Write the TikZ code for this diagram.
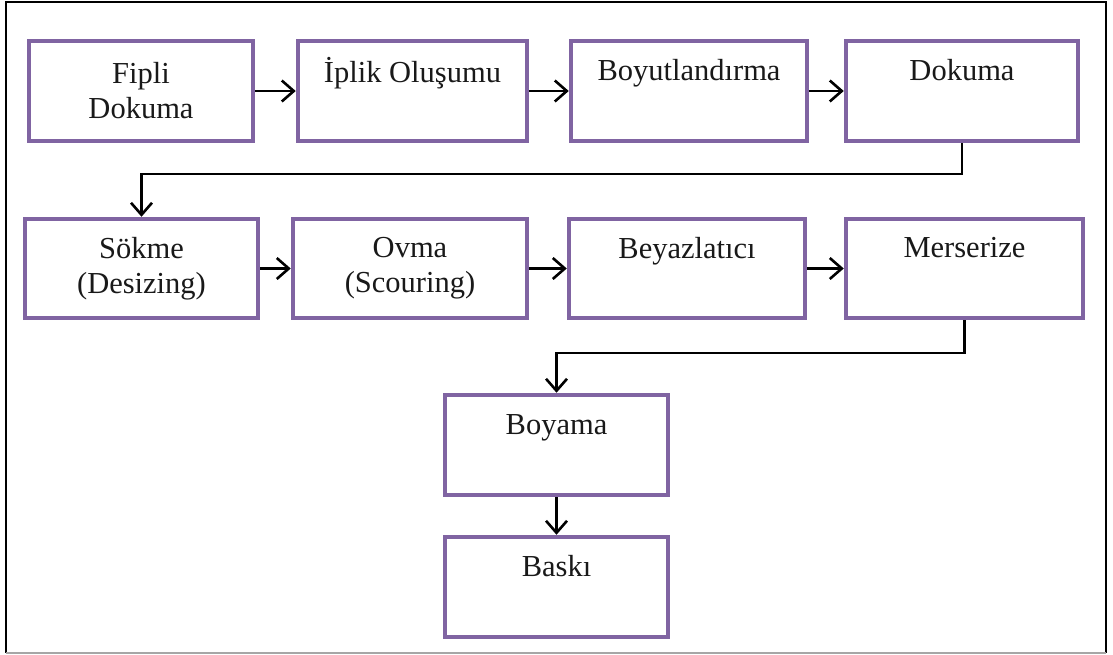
\documentclass[tikz,border=0pt]{standalone}
\usepackage{fontspec}
\setmainfont{Liberation Serif}
\usetikzlibrary{arrows.meta}
\definecolor{boxpurple}{HTML}{8064A2}
\tikzset{
  stepbox/.style={draw=boxpurple, line width=4.5pt, fill=white, inner sep=0pt,
    align=center, font=\fontsize{30.5}{35}\selectfont, text=black!90},
  arr/.style={draw=black, line width=2.6pt, -{Straight Barb[length=12pt,width=21pt,line width=2.6pt]}},
}
\newcommand{\onel}[1]{#1\\\phantom{Dg}}
\begin{document}
\begin{tikzpicture}[x=1pt,y=-1pt]
\useasboundingbox (0,0) rectangle (1113,654);
\fill[white] (0,0) rectangle (1113,654);
% outer frame
\draw[line width=2pt, black] (6,652.5) -- (6,1.5) -- (1106,1.5) -- (1106,652.5);
\draw[line width=2pt, black!35] (6,652.5) -- (1106,652.5);
% row 1
\node[stepbox, minimum width=224pt, minimum height=100pt] (A) at (141,91) {Fipli\\Dokuma};
\node[stepbox, minimum width=229pt, minimum height=100pt] (B) at (412.5,91) {\onel{İplik Oluşumu}};
\node[stepbox, minimum width=236pt, minimum height=100pt] (C) at (689,91) {\onel{Boyutlandırma}};
\node[stepbox, minimum width=232pt, minimum height=100pt] (D) at (962,91) {\onel{Dokuma}};
% row 2
\node[stepbox, minimum width=233pt, minimum height=99pt] (E) at (141.5,268.5) {Sökme\\(Desizing)};
\node[stepbox, minimum width=234pt, minimum height=99pt] (F) at (410,268.5) {Ovma\\(Scouring)};
\node[stepbox, minimum width=236pt, minimum height=99pt] (G) at (687,268.5) {\onel{Beyazlatıcı}};
\node[stepbox, minimum width=237pt, minimum height=99pt] (H) at (964.5,268.5) {\onel{Merserize}};
% rows 3,4
\node[stepbox, minimum width=223pt, minimum height=100pt] (I) at (556.5,445) {\onel{Boyama}};
\node[stepbox, minimum width=223pt, minimum height=100pt] (J) at (556.5,587) {\onel{Baskı}};
% connectors
\draw[arr] (A.east) -- (B.west);
\draw[arr] (B.east) -- (C.west);
\draw[arr] (C.east) -- (D.west);
\coordinate (b1) at (0,174);
\draw[arr] (D.south) |- (b1 -| E.north) -- (E.north);
\draw[arr] (E.east) -- (F.west);
\draw[arr] (F.east) -- (G.west);
\draw[arr] (G.east) -- (H.west);
\coordinate (b2) at (0,353);
\draw[arr] (H.south) |- (b2 -| I.north) -- (I.north);
\draw[arr] (I.south) -- (J.north);
\end{tikzpicture}
\end{document}
